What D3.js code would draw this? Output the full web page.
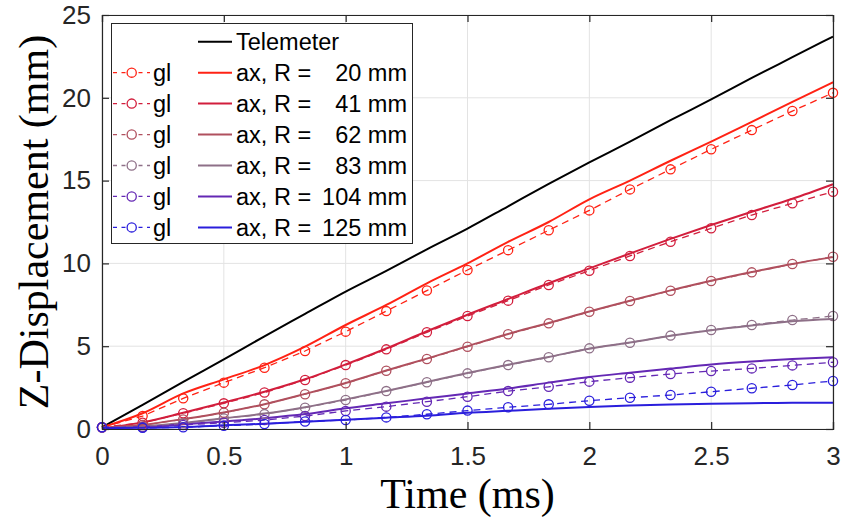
<!DOCTYPE html>
<html>
<head>
<meta charset="utf-8">
<script src="https://cdn.jsdelivr.net/npm/d3@7"></script>
<style>
  html, body { margin: 0; padding: 0; background: #fff; }
  svg { display: block; }
</style>
</head>
<body>
<svg id="chart" width="844" height="521"></svg>
<script>
// ---------- data ----------
const times = [0, 0.1667, 0.3333, 0.5, 0.6667, 0.8333, 1.0, 1.1667, 1.3333, 1.5,
               1.6667, 1.8333, 2.0, 2.1667, 2.3333, 2.5, 2.6667, 2.8333, 3.0];

const telemeter = [0.1, 1.45, 2.85, 4.2, 5.6, 6.95, 8.3, 9.55, 10.85, 12.1,
                   13.45, 14.8, 16.1, 17.35, 18.65, 19.9, 21.2, 22.45, 23.7];

const radii = [20, 41, 62, 83, 104, 125];

const gl20  = [0.1, 0.78, 1.85, 2.8, 3.7, 4.71, 5.88, 7.12, 8.36, 9.6, 10.8, 12.0, 13.2, 14.47, 15.68, 16.89, 18.05, 19.2, 20.3];
const ax20  = [0.1, 0.95, 2.15, 3.0, 3.86, 4.97, 6.28, 7.49, 8.8, 10.0, 11.3, 12.5, 13.87, 15.0, 16.2, 17.35, 18.55, 19.75, 20.94];
const gl41  = [0.1, 0.38, 0.95, 1.55, 2.2, 2.96, 3.86, 4.81, 5.84, 6.82, 7.75, 8.7, 9.56, 10.45, 11.31, 12.12, 12.92, 13.63, 14.33];
const ax41  = [0.05, 0.4, 0.98, 1.6, 2.25, 3.0, 3.9, 4.86, 5.9, 6.9, 7.85, 8.8, 9.7, 10.6, 11.48, 12.32, 13.12, 13.9, 14.78];
const gl62  = [0.1, 0.24, 0.58, 0.98, 1.49, 2.1, 2.76, 3.52, 4.23, 4.97, 5.72, 6.38, 7.08, 7.73, 8.35, 8.94, 9.46, 9.96, 10.4];
const ax62  = [0.05, 0.25, 0.6, 1.0, 1.5, 2.12, 2.78, 3.53, 4.25, 5.0, 5.74, 6.4, 7.1, 7.75, 8.37, 8.95, 9.48, 9.97, 10.38];
const gl83  = [0.1, 0.14, 0.34, 0.64, 0.9, 1.29, 1.75, 2.29, 2.82, 3.36, 3.86, 4.33, 4.87, 5.21, 5.64, 5.98, 6.28, 6.58, 6.82];
const ax83  = [0.05, 0.15, 0.36, 0.65, 0.93, 1.32, 1.79, 2.3, 2.84, 3.38, 3.88, 4.35, 4.85, 5.22, 5.63, 5.97, 6.25, 6.5, 6.64];
const gl104 = [0.1, 0.1, 0.24, 0.38, 0.54, 0.78, 1.09, 1.35, 1.65, 1.95, 2.29, 2.55, 2.86, 3.1, 3.32, 3.5, 3.66, 3.84, 4.03];
const ax104 = [0.05, 0.12, 0.28, 0.45, 0.65, 0.9, 1.25, 1.55, 1.85, 2.15, 2.45, 2.8, 3.14, 3.4, 3.65, 3.9, 4.08, 4.22, 4.33];
const gl125 = [0.1, 0.07, 0.1, 0.2, 0.3, 0.45, 0.54, 0.7, 0.89, 1.11, 1.31, 1.49, 1.71, 1.89, 2.05, 2.25, 2.46, 2.66, 2.9];
const ax125 = [0.05, 0.07, 0.12, 0.22, 0.32, 0.44, 0.56, 0.68, 0.8, 0.98, 1.1, 1.22, 1.33, 1.42, 1.48, 1.52, 1.56, 1.58, 1.59];

const glSeries = [gl20, gl41, gl62, gl83, gl104, gl125];
const axSeries = [ax20, ax41, ax62, ax83, ax104, ax125];

const xTicks = [0, 0.5, 1, 1.5, 2, 2.5, 3];
const yTicks = [0, 5, 10, 15, 20, 25];

const seriesColors = ["#ff2214", "#d21e3c", "#b0505e", "#8e7088", "#6428b4", "#2a1edc"];

// ---------- layout ----------
const svg = d3.select("#chart");
const L = 102, R = 833, T = 15, B = 429;
const x = d3.scaleLinear().domain([0, 3]).range([L, R]);
const y = d3.scaleLinear().domain([0, 25]).range([B, T]);
const axisColor = "#262626";
const tickFont = "Liberation Sans, Arial, Helvetica, sans-serif";

// grid
const grid = svg.append("g");
grid.selectAll("line.gx").data(xTicks).join("line")
  .attr("x1", d => x(d)).attr("x2", d => x(d)).attr("y1", T).attr("y2", B)
  .attr("stroke", "#e3e3e3").attr("stroke-width", 1);
grid.selectAll("line.gy").data(yTicks).join("line")
  .attr("x1", L).attr("x2", R).attr("y1", d => y(d)).attr("y2", d => y(d))
  .attr("stroke", "#e3e3e3").attr("stroke-width", 1);

// lines
const line = d3.line().x((d, i) => x(times[i])).y(d => y(d));
const smooth = d3.line().x((d, i) => x(times[i])).y(d => y(d)).curve(d3.curveMonotoneX);
const plot = svg.append("g");

plot.append("path").datum(telemeter).attr("d", smooth)
  .attr("fill", "none").attr("stroke", "#000").attr("stroke-width", 2);

axSeries.forEach((s, k) => {
  plot.append("path").datum(s).attr("d", smooth)
    .attr("fill", "none").attr("stroke", seriesColors[k]).attr("stroke-width", 2);
});
glSeries.forEach((s, k) => {
  plot.append("path").datum(s).attr("d", line)
    .attr("fill", "none").attr("stroke", seriesColors[k]).attr("stroke-width", 1.3)
    .attr("stroke-dasharray", "7,5");
  plot.selectAll(null).data(s).join("circle")
    .attr("cx", (d, i) => x(times[i])).attr("cy", d => y(d)).attr("r", 4.6)
    .attr("fill", "none").attr("stroke", seriesColors[k]).attr("stroke-width", 1.3);
});

// axes
const gx = svg.append("g").attr("transform", `translate(0,${B})`)
  .call(d3.axisBottom(x).tickValues(xTicks).tickSize(-7).tickPadding(18).tickFormat(d3.format("")));
const gxTop = svg.append("g").attr("transform", `translate(0,${T})`)
  .call(d3.axisTop(x).tickValues(xTicks).tickSize(-7).tickFormat(""));
const gy = svg.append("g").attr("transform", `translate(${L},0)`)
  .call(d3.axisLeft(y).tickValues(yTicks).tickSize(-7).tickPadding(11));
const gyR = svg.append("g").attr("transform", `translate(${R},0)`)
  .call(d3.axisRight(y).tickValues(yTicks).tickSize(-7).tickFormat(""));

[gx, gxTop, gy, gyR].forEach(g => {
  g.select(".domain").attr("stroke", axisColor).attr("stroke-width", 1.2);
  g.selectAll(".tick line").attr("stroke", axisColor).attr("stroke-width", 1.2);
  g.selectAll(".tick text").attr("fill", axisColor)
    .style("font-family", tickFont).style("font-size", "26px");
});

// axis labels
svg.append("text").attr("x", (L + R) / 2).attr("y", 508)
  .attr("text-anchor", "middle")
  .style("font-family", "Liberation Serif, Times New Roman, serif").style("font-size", "42px")
  .attr("fill", "#000").text("Time (ms)");
svg.append("text").attr("transform", `translate(48,${(T + B) / 2}) rotate(-90)`)
  .attr("text-anchor", "middle")
  .style("font-family", "Liberation Serif, Times New Roman, serif").style("font-size", "42px")
  .attr("fill", "#000").text("Z-Displacement (mm)");

// legend
const lg = svg.append("g");
lg.append("rect").attr("x", 111.5).attr("y", 23.5).attr("width", 301).attr("height", 220)
  .attr("fill", "#fff").attr("stroke", axisColor).attr("stroke-width", 1);
const rowY = i => 41.7 + i * 30.95;
const legFont = "Liberation Sans, Arial, Helvetica, sans-serif";
const legSize = "23.5px";

lg.append("line").attr("x1", 198).attr("x2", 232).attr("y1", rowY(0)).attr("y2", rowY(0))
  .attr("stroke", "#000").attr("stroke-width", 2);
lg.append("text").attr("x", 236).attr("y", rowY(0) + 8.3)
  .style("font-family", legFont).style("font-size", legSize).text("Telemeter");

radii.forEach((r, k) => {
  const yy = rowY(k + 1);
  const c = seriesColors[k];
  lg.append("line").attr("x1", 113).attr("x2", 150).attr("y1", yy).attr("y2", yy)
    .attr("stroke", c).attr("stroke-width", 1.3).attr("stroke-dasharray", "4,4.5");
  lg.append("circle").attr("cx", 131.7).attr("cy", yy).attr("r", 4.6)
    .attr("fill", "#fff").attr("stroke", c).attr("stroke-width", 1.3);
  lg.append("text").attr("x", 153).attr("y", yy + 8.3)
    .style("font-family", legFont).style("font-size", legSize).text("gl");
  lg.append("line").attr("x1", 198).attr("x2", 232).attr("y1", yy).attr("y2", yy)
    .attr("stroke", c).attr("stroke-width", 2);
  lg.append("text").attr("x", 236).attr("y", yy + 8.3)
    .style("font-family", legFont).style("font-size", legSize).text("ax, R =");
  lg.append("text").attr("x", 407).attr("y", yy + 8.3).attr("text-anchor", "end")
    .style("font-family", legFont).style("font-size", legSize).text(`${r} mm`);
});
</script>
</body>
</html>
